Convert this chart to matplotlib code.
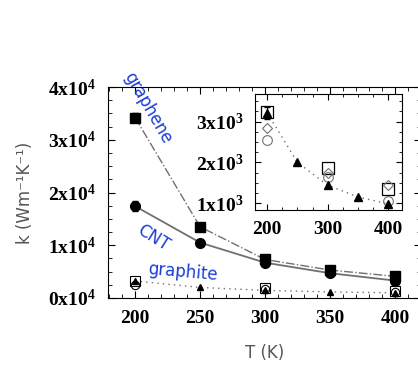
import matplotlib.pyplot as plt
import numpy as np

plt.rcParams['mathtext.fontset'] = 'custom'
plt.rcParams['mathtext.rm'] = 'Liberation Serif:bold'
plt.rcParams['mathtext.bf'] = 'Liberation Serif:bold'

T = [200, 250, 300, 350, 400]
graphene = [34200, 13500, 7300, 5300, 4100]
cnt = [17400, 10500, 6700, 4700, 3300]
cnt_err = [900, 0, 0, 0, 0]
graphene_err = [900, 0, 0, 0, 0]

# graphite measurements (same values in main plot and inset)
gr_tri = [3220, 2000, 1440, 1150, 980]
gr_sq_T = [200, 300, 400]
gr_sq = [3240, 1850, 1340]
gr_dia = [2850, 1750, 1440]
gr_circ = [2540, 1650, 1050]

main_yticks = [0, 10000, 20000, 30000, 40000]
main_ylabels = [r'$\mathrm{%dx10^{4}}$' % i for i in range(5)]
inset_yticks = [1000, 2000, 3000]
inset_ylabels = [r'$\mathrm{%dx10^{3}}$' % i for i in range(1, 4)]

serif = ['Liberation Serif', 'DejaVu Serif']
blue = '#1c3fd6'
grey = '#707070'

fig = plt.figure(figsize=(4.18, 3.65), dpi=100)
ax = fig.add_axes([0.258, 0.1836, 0.749, 0.578])

ax.plot(T, graphene, color=grey, lw=1, ls='-.', zorder=1)
ax.plot(T, cnt, color=grey, lw=1.3, zorder=1)
ax.plot(T, gr_tri, color=grey, lw=1, ls=(0, (1, 3)), zorder=1)

ax.errorbar(T, graphene, yerr=graphene_err, fmt='s', color='k', ms=7, capsize=2, lw=0.8)
ax.errorbar(T, cnt, yerr=cnt_err, fmt='o', color='k', ms=7, capsize=2, lw=0.8)
ax.plot(gr_sq_T, gr_sq, 's', mfc='none', mec='k', ms=7, mew=0.8)
ax.plot(gr_sq_T, gr_circ, 'o', mfc='none', mec='k', ms=6, mew=0.8)
ax.plot(T, gr_tri, '^', color='k', ms=5)

ax.set_xlim(179, 420)
ax.set_ylim(0, 40000)
ax.set_xticks(T)
ax.set_xticklabels([str(t) for t in T], family=serif, fontweight='bold', fontsize=14)
ax.set_xticks(np.arange(180, 420, 10), minor=True)
ax.set_yticks(main_yticks)
ax.set_yticklabels(main_ylabels, fontsize=14)
ax.set_yticks(np.arange(0, 40000, 2500), minor=True)
ax.tick_params(which='both', direction='in', top=True, right=True)
ax.tick_params(which='major', length=5, pad=9)
ax.tick_params(which='minor', length=3)
ax.set_xlabel('T (K)', fontsize=12, color='#555555', labelpad=12)
ax.set_ylabel('k (Wm\u207b\u00b9K\u207b\u00b9)', fontsize=12, color='#555555', labelpad=10)

ax.text(210, 36000, 'graphene', color=blue, fontsize=12, rotation=-60, ha='center', va='center')
ax.text(214, 11400, 'CNT', color=blue, fontsize=12, rotation=-32, ha='center', va='center')
ax.text(237, 5000, 'graphite', color=blue, fontsize=12, rotation=-5, ha='center', va='center')

ins = fig.add_axes([0.610, 0.4247, 0.352, 0.318])
ins.plot(T, gr_tri, color=grey, lw=1, ls=(0, (1, 3)), zorder=1)
ins.errorbar(T[:1], gr_tri[:1], yerr=[150], fmt='none', ecolor='k', capsize=2, lw=0.8)
ins.plot(gr_sq_T, gr_sq, 's', mfc='none', mec='k', ms=8, mew=0.9)
ins.plot(gr_sq_T, gr_dia, 'D', mfc='none', mec=grey, ms=5, mew=0.8)
ins.plot(gr_sq_T, gr_circ, 'o', mfc='none', mec=grey, ms=7, mew=0.8)
ins.plot(T, gr_tri, '^', color='k', ms=6)
ins.set_xlim(180, 423)
ins.set_ylim(830, 3680)
ins.set_xticks([200, 300, 400])
ins.set_xticklabels(['200', '300', '400'], family=serif, fontweight='bold', fontsize=14)
ins.set_xticks(np.arange(200, 420, 25), minor=True)
ins.set_yticks(inset_yticks)
ins.set_yticklabels(inset_ylabels, fontsize=14)
ins.set_yticks(np.arange(1000, 3600, 250), minor=True)
ins.tick_params(which='both', direction='in', top=True, right=True)
ins.tick_params(which='major', length=4, pad=8)
ins.tick_params(which='minor', length=2)

fig.savefig('out.png', dpi=100)
